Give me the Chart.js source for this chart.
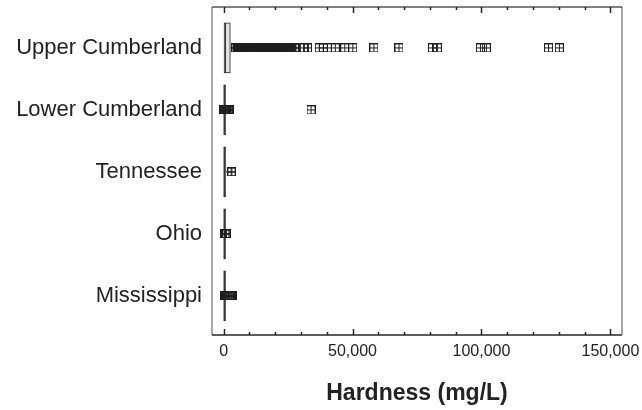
<!DOCTYPE html>
<html lang="en">
<head>
    <meta charset="UTF-8">
    <title>Hardness by Region</title>
    <script src="https://cdn.jsdelivr.net/npm/chart.js"></script>
    <style>
        body {
            margin: 0;
            padding: 0;
            background: white;
        }
        #wrap {
            width: 642px;
            height: 410px;
        }
    </style>
</head>
<body>
    <div id="wrap"><canvas id="hardnessChart" width="642" height="410"></canvas></div>

    <script>
        // regions, top to bottom
        let regions = ["Upper Cumberland", "Lower Cumberland", "Tennessee", "Ohio", "Mississippi"];

        // box summary per region (mg/L)
        let q1 = [150, 50, 50, 50, 50];
        let median = [700, 300, 300, 300, 300];
        let q3 = [2600, 750, 750, 750, 750];
        let whiskerLo = [0, 0, 0, 0, 0];
        let whiskerHi = [4600, 1200, 2500, 1000, 1500];

        // outliers per region (mg/L)
        let upperCumberland = [4800, 5200, 5500, 5900, 6200, 6600, 7000, 7300, 7700, 8100, 8400, 8800,
            9200, 9600, 9900, 10300, 10700, 11000, 11400, 11900, 12300, 12700, 13100, 13500, 13900,
            14400, 14800, 15200, 15600, 16100, 16500, 16900, 17400, 17800, 18200, 18700, 19100, 19600,
            20000, 20500, 20900, 21400, 21800, 22300, 22700, 23200, 23700, 24100, 24600, 25000, 25500,
            26000, 26400, 26900, 27400, 27800, 31300, 32500, 37100, 38700, 40200, 43300, 47000, 50100,
            58300, 68000, 81000, 82900, 99600, 101900, 126000, 130200];
        let lowerCumberland = [100, 400, 700, 1000, 1300, 1600, 1900, 2200, 2400, 33900];
        let tennessee = [2900, 3200];
        let ohio = [500, 800, 1100];
        let mississippi = [500, 900, 1300, 1700, 2100, 2500, 2900, 3300];
        let outliers = [upperCumberland, lowerCumberland, tennessee, ohio, mississippi];

        // x axis
        let xTicks = [0, 50000, 100000, 150000];
        let xMinorStep = 10000;
        let xMin = -4500;
        let xMax = 154500;

        // little square-with-cross marker for outliers
        function makeMarker() {
            let c = document.createElement("canvas");
            c.width = 9;
            c.height = 9;
            let g = c.getContext("2d");
            g.strokeStyle = "#1e1e1e";
            g.lineWidth = 1;
            g.strokeRect(0.5, 0.5, 8, 8);
            g.beginPath();
            g.moveTo(4.5, 0);
            g.lineTo(4.5, 9);
            g.moveTo(0, 4.5);
            g.lineTo(9, 4.5);
            g.stroke();
            return c;
        }
        let marker = makeMarker();

        let outlierPoints = [];
        outliers.forEach((list, i) => list.forEach(v => outlierPoints.push({ x: v, y: i })));

        let datasets = [];
        datasets.push({
            type: "scatter",
            label: "Outliers",
            data: outlierPoints,
            pointStyle: marker,
            pointRadius: 4.5,
            order: 0
        });
        regions.forEach((r, i) => {
            datasets.push({
                type: "line",
                label: r + " whiskers",
                data: [{ x: whiskerLo[i], y: i }, { x: q1[i], y: i }, { x: NaN, y: i }, { x: q3[i], y: i }, { x: whiskerHi[i], y: i }],
                borderColor: "#262626",
                borderWidth: 1,
                pointRadius: 0,
                spanGaps: false,
                order: 3
            });
        });
        datasets.push({
            type: "scatter",
            label: "Median",
            data: regions.map((r, i) => ({ x: median[i], y: i })),
            pointStyle: "line",
            rotation: 90,
            pointRadius: 25,
            borderColor: "#262626",
            borderWidth: 1,
            order: 1
        });
        datasets.push({
            type: "bar",
            label: "IQR",
            indexAxis: "y",
            data: regions.map((r, i) => ({ x: [q1[i], q3[i]], y: i })),
            backgroundColor: "#e2e2e2",
            borderColor: "#262626",
            borderWidth: 1,
            borderSkipped: false,
            barThickness: 50,
            order: 2
        });

        // frame and inward tick marks on top and bottom edges
        let framePlugin = {
            id: "frame",
            afterDraw(chart) {
                let ctx = chart.ctx;
                let a = chart.chartArea;
                let xs = chart.scales.x;
                ctx.save();
                ctx.lineWidth = 1.5;
                ctx.strokeStyle = "#8c8c8c";
                ctx.beginPath();
                ctx.moveTo(a.left, a.top);
                ctx.lineTo(a.left, a.bottom);
                ctx.moveTo(a.right, a.top);
                ctx.lineTo(a.right, a.bottom);
                ctx.stroke();
                ctx.strokeStyle = "#555";
                ctx.beginPath();
                ctx.moveTo(a.left, a.top);
                ctx.lineTo(a.right, a.top);
                ctx.stroke();
                ctx.strokeStyle = "#262626";
                ctx.beginPath();
                ctx.moveTo(a.left, a.bottom);
                ctx.lineTo(a.right, a.bottom);
                ctx.stroke();

                ctx.lineWidth = 1.5;
                ctx.strokeStyle = "#262626";
                ctx.beginPath();
                for (let v = 0; v <= xMax; v += xMinorStep) {
                    let px = Math.round(xs.getPixelForValue(v)) + 0.5;
                    let len = xTicks.includes(v) ? 6 : 3;
                    ctx.moveTo(px, a.bottom);
                    ctx.lineTo(px, a.bottom - len);
                    ctx.moveTo(px, a.top);
                    ctx.lineTo(px, a.top + len);
                }
                ctx.stroke();
                ctx.restore();
            }
        };

        var hardnessChart = new Chart(document.getElementById("hardnessChart"), {
            type: "scatter",
            data: { datasets: datasets },
            options: {
                responsive: false,
                animation: false,
                layout: { autoPadding: false, padding: { top: 7, right: 20, left: 0, bottom: 0 } },
                plugins: {
                    legend: { display: false },
                    tooltip: { enabled: false }
                },
                scales: {
                    x: {
                        type: "linear",
                        position: "bottom",
                        min: xMin,
                        max: xMax,
                        offset: false,
                        grid: { display: false, drawTicks: false },
                        border: { display: false },
                        afterBuildTicks: (scale) => { scale.ticks = xTicks.map(v => ({ value: v })); },
                        afterFit: (scale) => {
                            scale.height = 75;
                            scale.paddingLeft = 0;
                            scale.paddingRight = 0;
                        },
                        ticks: {
                            padding: 7,
                            color: "#222",
                            font: { family: "'Liberation Sans', Arial, sans-serif", size: 16 },
                            callback: (v) => v.toLocaleString("en-US")
                        },
                        title: {
                            display: true,
                            text: "Hardness (mg/L)",
                            color: "#222",
                            font: { family: "'Liberation Sans', Arial, sans-serif", size: 23, weight: "bold" },
                            padding: { top: 0, bottom: 3 }
                        }
                    },
                    y: {
                        type: "linear",
                        position: "left",
                        reverse: true,
                        min: -0.66,
                        max: 4.63,
                        offset: false,
                        grid: { display: false, drawTicks: false },
                        border: { display: false },
                        afterBuildTicks: (scale) => { scale.ticks = regions.map((r, i) => ({ value: i })); },
                        afterFit: (scale) => {
                            scale.width = 212;
                            scale.paddingTop = 0;
                            scale.paddingBottom = 0;
                        },
                        ticks: {
                            padding: 10,
                            color: "#222",
                            font: { family: "'Liberation Sans', Arial, sans-serif", size: 22 },
                            callback: (v) => regions[v]
                        }
                    }
                }
            },
            plugins: [framePlugin]
        });
    </script>
</body>
</html>
